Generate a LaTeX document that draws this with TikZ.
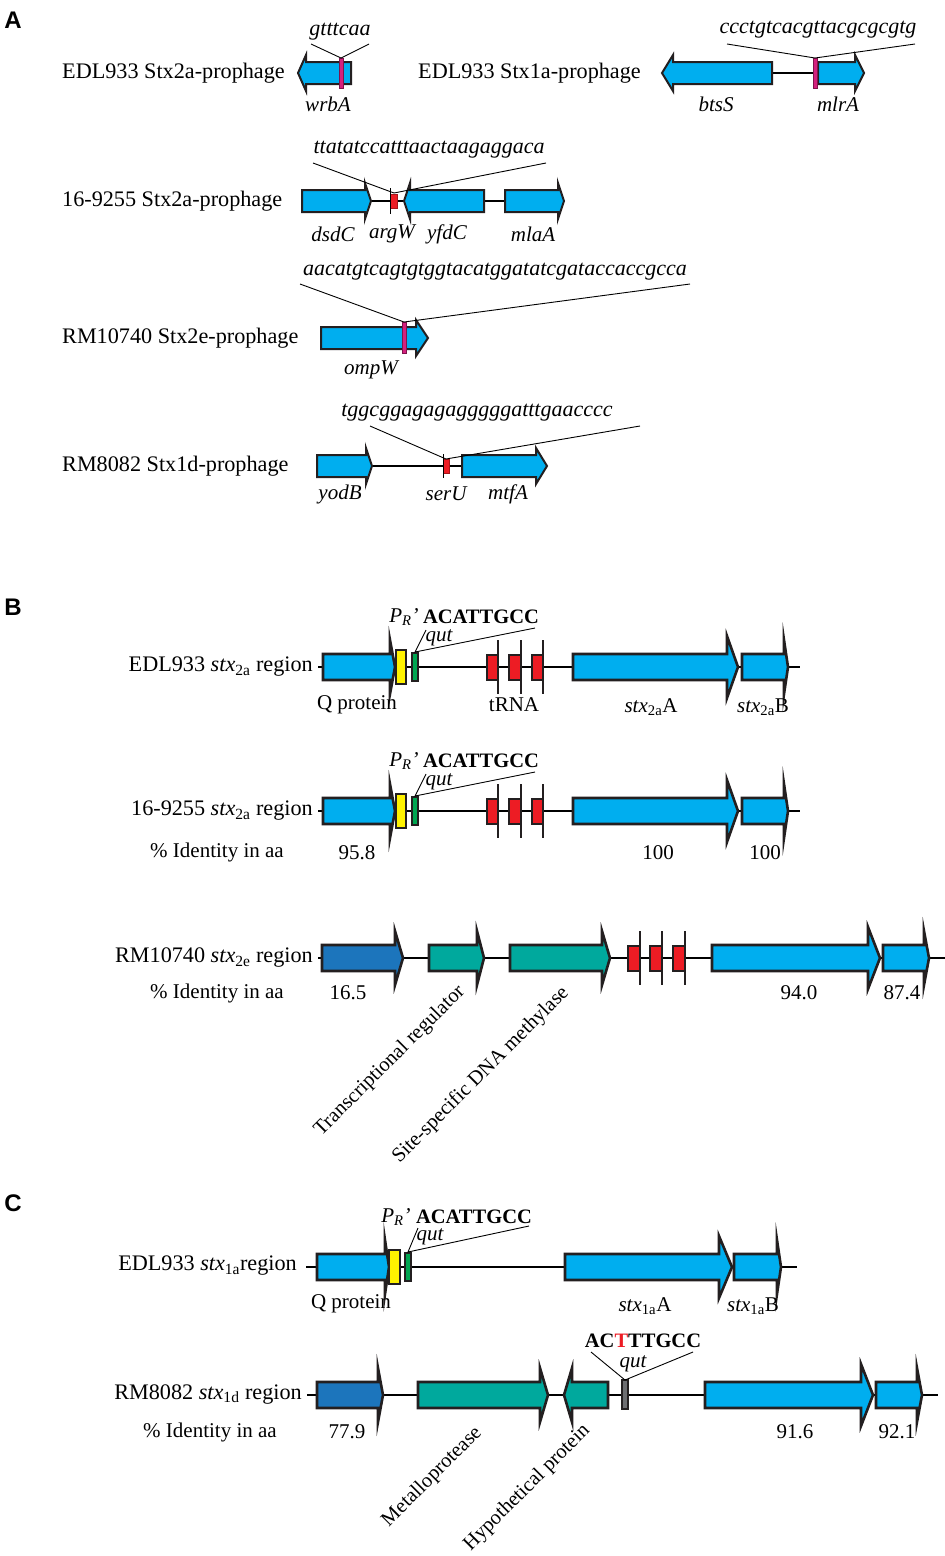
\documentclass[tikz,border=0pt]{standalone}
\usepackage{fontspec}
\setmainfont{Liberation Serif}
\newfontfamily\panelfont{Liberation Sans}
\definecolor{cyanc}{HTML}{00AEEF}
\definecolor{darkb}{HTML}{1C75BC}
\definecolor{tealc}{HTML}{00A99D}
\definecolor{redc}{HTML}{ED1C24}
\definecolor{yelc}{HTML}{FFF200}
\definecolor{grnc}{HTML}{00A651}
\definecolor{magc}{HTML}{D4207E}
\definecolor{outl}{HTML}{231F20}
\definecolor{grayc}{HTML}{6D6E71}
\def\gbh{11}\def\gsh{18}\def\glw{2pt}
% right-pointing gene: body start, body end, tip, y, colour
\newcommand\geneR[5]{\draw[gene,fill=#5] (#1,#4-\gbh) -- (#2,#4-\gbh) -- (#2,#4-\gsh) -- (#3,#4) -- (#2,#4+\gsh) -- (#2,#4+\gbh) -- (#1,#4+\gbh) -- cycle;}
% left-pointing gene: tip, head base, body end, y, colour
\newcommand\geneL[5]{\draw[gene,fill=#5] (#3,#4-\gbh) -- (#2,#4-\gbh) -- (#2,#4-\gsh) -- (#1,#4) -- (#2,#4+\gsh) -- (#2,#4+\gbh) -- (#3,#4+\gbh) -- cycle;}
\tikzset{
  gene/.style={draw=outl,line width=\glw,line join=miter,miter limit=20},
  back/.style={draw=black,line width=1.8pt},
  seqline/.style={draw=black,line width=0.9pt},
  ttl/.style={font=\fontsize{22.2}{26}\selectfont,inner sep=0pt},
  lbl/.style={font=\fontsize{21}{24}\selectfont,inner sep=0pt},
  rlbl/.style={font=\fontsize{20.5}{24}\selectfont,inner sep=0pt,rotate=45,anchor=east},
  ilbl/.style={font=\fontsize{21}{24}\selectfont\itshape,inner sep=0pt},
  seq/.style={font=\fontsize{22}{26}\selectfont\itshape,inner sep=0pt},
  bseq/.style={font=\fontsize{20.5}{24}\selectfont\bfseries,inner sep=0pt},
  prl/.style={font=\fontsize{21}{24}\selectfont\itshape,inner sep=0pt},
  panel/.style={font=\fontsize{24}{28}\selectfont\panelfont\bfseries,inner sep=0pt},
  magbar/.style={fill=magc,draw=magc!60!black,line width=0.7pt},
  trna/.style={fill=redc,draw=outl,line width=1.6pt},
  tick/.style={draw=outl,line width=1.6pt},
}
\begin{document}
\begin{tikzpicture}[x=1pt,y=-1pt]
\useasboundingbox[fill=white] (0,0) rectangle (945,1556);
% ================= Panel A =================
\node[panel] (pA) at (13,20) {A};
% --- row A1
\node[ttl,anchor=west] (tA1) at (62,73) {EDL933 Stx2a-prophage};
\geneL{298}{306}{351}{73}{cyanc}
\draw[magbar] (339,58) rectangle (343,88);
\coordinate (m1) at (341,58);
\node[seq] (s1) at (340,32) {gtttcaa};
\coordinate (s1l) at (311,44); \coordinate (s1r) at (369,44);
\draw[seqline] (s1l) -- (m1) -- (s1r);
\node[ilbl] (g1) at (328,104) {wrbA};
\node[ttl,anchor=west] (tA2) at (418,73) {EDL933 Stx1a-prophage};
\draw[back] (772,73) -- (818,73);
\geneL{662}{673}{772}{73}{cyanc}
\geneR{818}{855}{864}{73}{cyanc}
\draw[magbar] (813,58) rectangle (817,88);
\coordinate (m2) at (815,58);
\node[seq] (s2) at (818,30) {ccctgtcacgttacgcgcgtg};
\coordinate (s2l) at (727,44); \coordinate (s2r) at (915,44);
\draw[seqline] (s2l) -- (m2) -- (s2r);
\node[ilbl] (g2) at (716,104) {btsS};
\node[ilbl] (g3) at (838,104) {mlrA};
% --- row A2
\node[ttl,anchor=west] (tA3) at (62,201) {16-9255 Stx2a-prophage};
\draw[back] (371,201) -- (404,201);
\draw[back] (484,201) -- (505,201);
\geneR{302}{365}{371}{201}{cyanc}
\geneL{404}{410}{484}{201}{cyanc}
\geneR{505}{558}{564}{201}{cyanc}
\draw[fill=redc,draw=redc!70!black,line width=0.7pt] (390,194) rectangle (397,208);
\draw[line width=0.8pt] (390,188) -- (390,214);
\coordinate (m3) at (394,193);
\node[seq] (s3) at (429,150) {ttatatccatttaactaagaggaca};
\coordinate (s3l) at (313,163); \coordinate (s3r) at (546,163);
\draw[seqline] (s3l) -- (m3) -- (s3r);
\node[ilbl] (g4) at (333,234) {dsdC};
\node[ilbl] (g5) at (392,234) {argW};
\node[ilbl] (g6) at (447,234) {yfdC};
\node[ilbl] (g7) at (533,234) {mlaA};
% --- row A3
\node[ttl,anchor=west] (tA4) at (62,338) {RM10740 Stx2e-prophage};
\geneR{321}{416}{428}{338}{cyanc}
\draw[magbar] (402,322) rectangle (406,353);
\coordinate (m4) at (404,322);
\node[seq] (s4) at (495,272) {aacatgtcagtgtggtacatggatatcgataccaccgcca};
\coordinate (s4l) at (300,284); \coordinate (s4r) at (690,284);
\draw[seqline] (s4l) -- (m4) -- (s4r);
\node[ilbl] (g8) at (371,370) {ompW};
% --- row A4
\node[ttl,anchor=west] (tA5) at (62,466) {RM8082 Stx1d-prophage};
\draw[back] (372,466) -- (462,466);
\geneR{317}{366}{372}{466}{cyanc}
\geneR{462}{536}{547}{466}{cyanc}
\draw[fill=redc,draw=redc!70!black,line width=0.7pt] (443,459) rectangle (449,473);
\draw[line width=0.8pt] (443,454) -- (443,478);
\coordinate (m5) at (446,459);
\node[seq] (s5) at (477,413) {tggcggagagagggggatttgaacccc};
\coordinate (s5l) at (370,426); \coordinate (s5r) at (640,426);
\draw[seqline] (s5l) -- (m5) -- (s5r);
\node[ilbl] (g9) at (340,494) {yodB};
\node[ilbl] (g10) at (446,494) {serU};
\node[ilbl] (g11) at (508,494) {mtfA};
% ================= Panel B =================
\def\gbh{13}\def\gsh{27}\def\glw{2.6pt}
\node[panel] (pB) at (13,607) {B};
% --- B1 / B2 share layout
\foreach \yy/\nm in {667/b1,811/b2}{
  \draw[back] (318,\yy) -- (800,\yy);
  \geneR{323}{390}{395}{\yy}{cyanc}
  \draw[fill=yelc,draw=outl,line width=1.6pt] (396,\yy-17) rectangle (406,\yy+17);
  \draw[fill=grnc,draw=outl,line width=1.6pt] (412,\yy-14) rectangle (418,\yy+14);
  \foreach \xa/\xb in {487/498,509/521,532/543}{
    \draw[trna] (\xa,\yy-12) rectangle (\xb,\yy+13);
    \draw[tick] (\xb,\yy-27) -- (\xb,\yy+27);
  }
  {\def\gsh{31}\geneR{573}{727}{738}{\yy}{cyanc}}
  \geneR{742}{784}{788}{\yy}{cyanc}
  \node[prl] (\nm pr) at (404,\yy-50) {P\textsubscript{R}'};
  \node[bseq] (\nm q) at (481,\yy-50) {ACATTGCC};
  \node[ilbl] (\nm qut) at (439,\yy-29) {qut};
  \coordinate (\nm g) at (415,\yy-15);
  \draw[seqline] (426,\yy-37) -- (\nm g) -- (535,\yy-39);
}
\node[ttl,anchor=east] (tB1) at (313,667) {EDL933 \textit{stx}\textsubscript{2a} region};
\node[lbl] (qb1) at (357,705) {Q protein};
\node[lbl] (tr1) at (514,705) {tRNA};
\node[lbl] (ab1) at (651,707) {\textit{stx}\textsubscript{2a}A};
\node[lbl] (bb1) at (763,707) {\textit{stx}\textsubscript{2a}B};
\node[ttl,anchor=east] (tB2) at (313,811) {16-9255 \textit{stx}\textsubscript{2a} region};
\node[lbl,anchor=west] (id2) at (150,852) {\% Identity in aa};
\node[lbl] (n21) at (357,853) {95.8};
\node[lbl] (n22) at (658,853) {100};
\node[lbl] (n23) at (765,853) {100};
% --- B3
\node[ttl,anchor=east] (tB3) at (313,958) {RM10740 \textit{stx}\textsubscript{2e} region};
\draw[back] (318,958) -- (945,958);
\geneR{322}{395}{403}{958}{darkb}
\geneR{429}{477}{484}{958}{tealc}
\geneR{510}{602}{610}{958}{tealc}
\foreach \xa/\xb in {628/640,650/662,673/685}{
  \draw[trna] (\xa,946) rectangle (\xb,971);
  \draw[tick] (\xb,931) -- (\xb,985);
}
{\def\gsh{31}\geneR{712}{868}{880}{958}{cyanc}}
\geneR{883}{924}{929}{958}{cyanc}
\node[lbl,anchor=west] (id3) at (150,993) {\% Identity in aa};
\node[lbl] (n31) at (348,993) {16.5};
\node[lbl] (n32) at (799,993) {94.0};
\node[lbl] (n33) at (902,993) {87.4};
\node[rlbl] (r1) at (462,989) {Transcriptional regulator};
\node[rlbl] (r2) at (566,990) {Site-specific DNA methylase};
% ================= Panel C =================
\node[panel] (pC) at (13,1203) {C};
% --- C1
\node[ttl,anchor=east] (tC1) at (297,1266) {EDL933 \textit{stx}\textsubscript{1a}region};
\draw[back] (306,1267) -- (797,1267);
\geneR{317}{385}{389}{1267}{cyanc}
\draw[fill=yelc,draw=outl,line width=1.6pt] (389,1250) rectangle (400,1284);
\draw[fill=grnc,draw=outl,line width=1.6pt] (405,1253) rectangle (411,1281);
{\def\gsh{31}\geneR{565}{719}{732}{1267}{cyanc}}
\geneR{734}{777}{781}{1267}{cyanc}
\node[prl] (c1pr) at (396,1217) {P\textsubscript{R}'};
\node[bseq] (c1q) at (474,1217) {ACATTGCC};
\node[ilbl] (c1qut) at (430,1237) {qut};
\coordinate (c1g) at (408,1252);
\draw[seqline] (418,1228) -- (c1g) -- (529,1226);
\node[lbl] (qc1) at (351,1304) {Q protein};
\node[lbl] (ac1) at (645,1306) {\textit{stx}\textsubscript{1a}A};
\node[lbl] (bc1) at (753,1306) {\textit{stx}\textsubscript{1a}B};
% --- C2
\node[ttl,anchor=east] (tC2) at (302,1394) {RM8082 \textit{stx}\textsubscript{1d} region};
\draw[back] (307,1395) -- (938,1395);
\geneR{317}{378}{383}{1395}{darkb}
\geneR{418}{540}{548}{1395}{tealc}
\geneL{564}{572}{608}{1395}{tealc}
\draw[fill=grayc,draw=outl,line width=1.4pt] (622,1380) rectangle (628,1409);
{\def\gsh{31}\geneR{705}{861}{873}{1395}{cyanc}}
\geneR{876}{917}{922}{1395}{cyanc}
\node[bseq] (c2q) at (643,1341) {AC\textcolor{redc}{T}TTGCC};
\node[ilbl] (c2qut) at (633,1364) {qut};
\coordinate (c2g) at (625,1380);
\draw[seqline] (591,1352) -- (c2g) -- (693,1352);
\node[lbl,anchor=west] (id4) at (143,1432) {\% Identity in aa};
\node[lbl] (n41) at (347,1432) {77.9};
\node[lbl] (n42) at (795,1432) {91.6};
\node[lbl] (n43) at (897,1432) {92.1};
\node[rlbl] (r3) at (479,1430) {Metalloprotease};
\node[rlbl] (r4) at (587,1428) {Hypothetical protein};
\end{tikzpicture}
\end{document}
